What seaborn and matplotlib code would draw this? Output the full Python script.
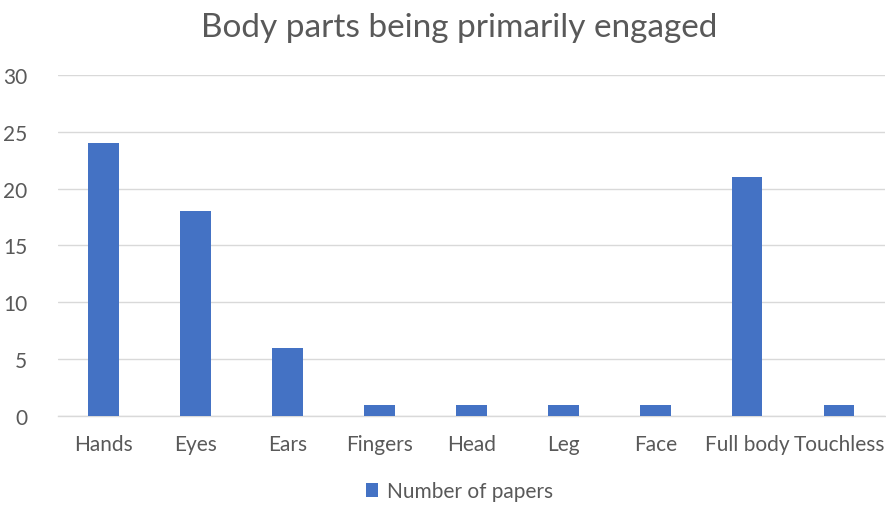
import matplotlib
matplotlib.use("Agg")
import matplotlib.pyplot as plt
import seaborn as sns
import pandas as pd

categories = ["Hands", "Eyes", "Ears", "Fingers", "Head", "Leg", "Face", "Full body", "Touchless"]
papers = [24, 18, 6, 1, 1, 1, 1, 21, 1]
y_ticks = [0, 5, 10, 15, 20, 25, 30]

sns.set_style("white")
plt.rcParams["font.family"] = ["Lato", "DejaVu Sans"]

df = pd.DataFrame({"part": categories, "papers": papers})

fig = plt.figure(figsize=(8.87, 5.06), dpi=100)
ax = fig.add_axes([0.065, 0.176, 0.933, 0.674])

sns.barplot(data=df, x="part", y="papers", color="#4472C4", width=0.33,
            saturation=1, label="Number of papers", ax=ax, zorder=3, linewidth=0)

ax.set_ylim(0, 30)
ax.set_yticks(y_ticks)
ax.set_xlim(-0.5, len(categories) - 0.5)
ax.yaxis.grid(True, color="#D9D9D9", linewidth=1, zorder=0)
ax.set_axisbelow(True)
for s in ["top", "right", "left"]:
    ax.spines[s].set_visible(False)
ax.spines["bottom"].set_color("#D9D9D9")
ax.spines["bottom"].set_linewidth(1)
ax.tick_params(axis="both", length=0, labelsize=15, colors="#595959")
ax.tick_params(axis="y", pad=22)
ax.tick_params(axis="x", pad=13)
ax.set_xlabel("")
ax.set_ylabel("")

fig.suptitle("Body parts being primarily engaged", fontsize=24, color="#595959",
             x=0.518, y=0.975)

ax.legend(loc="center", bbox_to_anchor=(0.518, 0.027), bbox_transform=fig.transFigure,
          frameon=False, fontsize=15, labelcolor="#595959",
          handlelength=0.6, handleheight=0.6, handletextpad=0.4)

fig.savefig("out.png", dpi=100)
